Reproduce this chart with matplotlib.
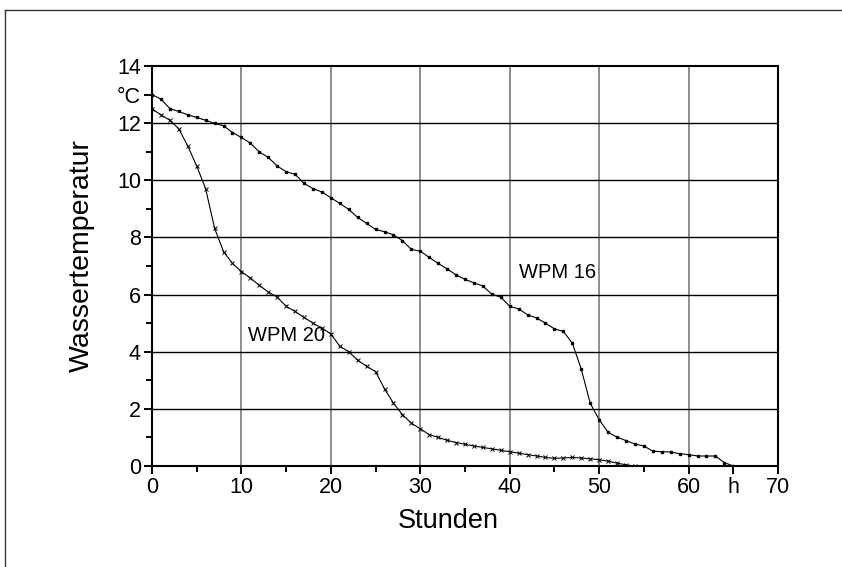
import matplotlib
matplotlib.use("Agg")
import matplotlib.pyplot as plt
from matplotlib.lines import Line2D

plt.rcParams['font.family'] = ['Liberation Sans', 'DejaVu Sans']

# WPM 16 (square markers)
hours_16 = list(range(0, 66))
temp_16 = [13.0, 12.84, 12.51, 12.41, 12.29, 12.2, 12.1, 11.99, 11.91, 11.67,
           11.5, 11.3, 10.99, 10.8, 10.5, 10.3, 10.21, 9.89, 9.71, 9.59,
           9.39, 9.19, 8.98, 8.7, 8.49, 8.28, 8.2, 8.09, 7.89, 7.58,
           7.52, 7.3, 7.09, 6.9, 6.69, 6.53, 6.41, 6.3, 6.01, 5.91,
           5.59, 5.5, 5.29, 5.18, 5.0, 4.8, 4.71, 4.3, 3.39, 2.2,
           1.62, 1.18, 1.01, 0.89, 0.77, 0.7, 0.52, 0.5, 0.49, 0.43,
           0.4, 0.35, 0.35, 0.35, 0.12, 0.0]

# WPM 20 (x markers)
hours_20 = list(range(0, 55))
temp_20 = [12.5, 12.29, 12.1, 11.8, 11.2, 10.5, 9.7, 8.32, 7.5, 7.09,
           6.8, 6.58, 6.32, 6.09, 5.91, 5.59, 5.41, 5.2, 5.0, 4.83,
           4.62, 4.19, 4.0, 3.7, 3.49, 3.3, 2.7, 2.2, 1.8, 1.5,
           1.3, 1.1, 1.0, 0.9, 0.82, 0.76, 0.7, 0.65, 0.6, 0.55,
           0.5, 0.45, 0.4, 0.35, 0.3, 0.27, 0.28, 0.3, 0.28, 0.25,
           0.22, 0.17, 0.1, 0.04, 0.0]

xticks = [0, 10, 20, 30, 40, 50, 60, 65, 70]
xticklabels = ['0', '10', '20', '30', '40', '50', '60', 'h', '70']
yticks = [0, 2, 4, 6, 8, 10, 12, 13, 14]
yticklabels = ['0', '2', '4', '6', '8', '10', '12', '°C', '14']

fig = plt.figure(figsize=(8.42, 5.67), dpi=100)
ax = fig.add_axes([152/842, 1-466/567, (778-152)/842, (466-66)/567])

# grid
for gx in [10, 20, 30, 40, 50, 60]:
    ax.axvline(gx, color='#858585', lw=1.3, zorder=1)
for gy in [2, 4, 6, 8, 10, 12]:
    ax.axhline(gy, color='black', lw=1.0, zorder=1)

ax.plot(hours_16, temp_16, color='black', lw=0.8, marker='s', ms=2.0,
        mfc='black', mec='black', zorder=3)
ax.plot(hours_20, temp_20, color='black', lw=0.8, marker='x', ms=3.0,
        mew=0.7, zorder=3)

ax.set_xlim(0, 70)
ax.set_ylim(0, 14)
ax.set_xticks(xticks)
ax.set_xticklabels(xticklabels)
ax.set_yticks(yticks)
ax.set_yticklabels(yticklabels)
ax.set_xticks([5, 15, 25, 35, 45, 55], minor=True)
ax.set_yticks([1, 3, 5, 7, 9, 11], minor=True)
ax.tick_params(which='major', direction='out', length=6, width=1.4,
               labelsize=15.5, pad=2)
ax.tick_params(which='minor', direction='out', length=4, width=1.4)
for s in ax.spines.values():
    s.set_linewidth(1.5)

fig.text(448/842, 1-521/567, 'Stunden', fontsize=19.5, ha='center', va='center')
fig.text(82/842, 1-256/567, 'Wassertemperatur', fontsize=20.5, ha='center',
         va='center', rotation=90)

ax.text(41.0, 6.77, 'WPM 16', fontsize=14.5, ha='left', va='center')
ax.text(10.75, 4.56, 'WPM 20', fontsize=14.5, ha='left', va='center')

# outer frame (top and left)
fig.add_artist(Line2D([5/842, 5/842], [0, 1-10/567], color='#333333', lw=1.0,
                      transform=fig.transFigure))
fig.add_artist(Line2D([5/842, 1], [1-10/567, 1-10/567], color='#333333', lw=1.0,
                      transform=fig.transFigure))

fig.savefig('out.png', dpi=100)
